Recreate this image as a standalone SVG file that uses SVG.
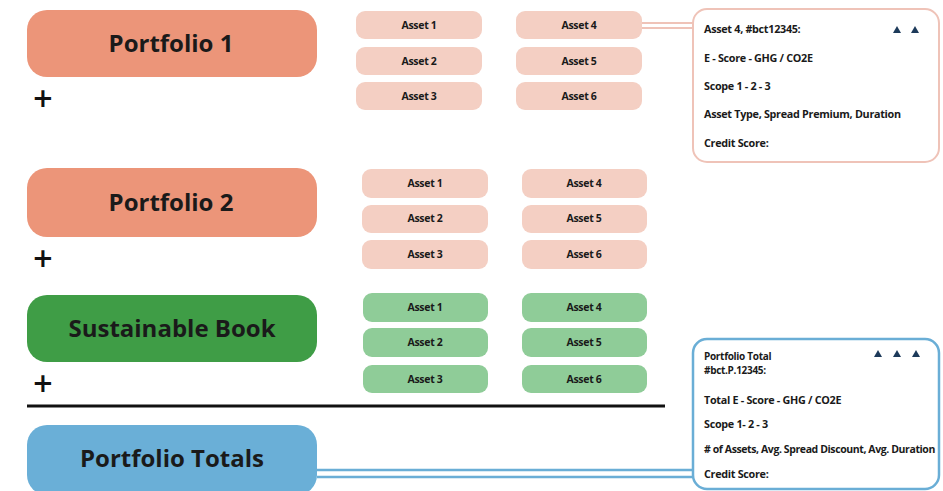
<svg xmlns="http://www.w3.org/2000/svg" width="943" height="491" viewBox="0 0 943 491">
<style>
.pf{fill:#EC9579}
.pa{fill:#F4CFC3}
.gb{fill:#3F9D46}
.ga{fill:#8FCC98}
.bl{fill:#6AAFD7}
.big{font-family:"Open Sans","Noto Sans",sans-serif;font-weight:bold;font-size:24px;fill:#1a1a1a;text-anchor:middle}
.sm{font-family:"Open Sans","Noto Sans",sans-serif;font-weight:bold;font-size:10.5px;fill:#1a1a1a;text-anchor:middle;letter-spacing:-0.3px}
.dt{font-family:"Open Sans","Noto Sans",sans-serif;font-weight:bold;font-size:10.8px;fill:#1a1a1a;letter-spacing:-0.3px}
.plus{font-family:"DejaVu Sans",sans-serif;font-weight:bold;font-size:26px;fill:#111}
.tri{fill:#1d3a5a}
</style>
<rect width="943" height="491" fill="#ffffff"/>

<g id="connectors">
  <line x1="642" y1="23" x2="693" y2="23" stroke="#EFC3B8" stroke-width="2"/>
  <line x1="642" y1="28" x2="693" y2="28" stroke="#EFC3B8" stroke-width="2"/>
  <line x1="317" y1="470" x2="693" y2="470" stroke="#6AAED6" stroke-width="2.5"/>
  <line x1="317" y1="477" x2="693" y2="477" stroke="#6AAED6" stroke-width="2.5"/>
</g>

<g id="portfolio1">
  <rect class="pf" x="27" y="10" width="290" height="67" rx="20"/>
  <text class="big" x="171" y="52">Portfolio 1</text>
</g>
<text class="plus" x="32" y="107">+</text>

<g id="p1-assets">
  <g id="p1-a1"><rect class="pa" x="356" y="11" width="126" height="28" rx="9"/><text class="sm" x="419" y="29">Asset 1</text></g>
  <g id="p1-a2"><rect class="pa" x="356" y="47" width="126" height="28" rx="9"/><text class="sm" x="419" y="65">Asset 2</text></g>
  <g id="p1-a3"><rect class="pa" x="356" y="82" width="126" height="28" rx="9"/><text class="sm" x="419" y="100">Asset 3</text></g>
  <g id="p1-a4"><rect class="pa" x="516" y="11" width="126" height="28" rx="9"/><text class="sm" x="579" y="29">Asset 4</text></g>
  <g id="p1-a5"><rect class="pa" x="516" y="47" width="126" height="28" rx="9"/><text class="sm" x="579" y="65">Asset 5</text></g>
  <g id="p1-a6"><rect class="pa" x="516" y="82" width="126" height="28" rx="9"/><text class="sm" x="579" y="100">Asset 6</text></g>
</g>

<g id="portfolio2">
  <rect class="pf" x="27" y="168" width="290" height="69" rx="20"/>
  <text class="big" x="171" y="211">Portfolio 2</text>
</g>
<text class="plus" x="32" y="267">+</text>

<g id="p2-assets">
  <g id="p2-a1"><rect class="pa" x="362" y="169" width="126" height="29" rx="9"/><text class="sm" x="425" y="187">Asset 1</text></g>
  <g id="p2-a2"><rect class="pa" x="362" y="205" width="126" height="28" rx="9"/><text class="sm" x="425" y="222">Asset 2</text></g>
  <g id="p2-a3"><rect class="pa" x="362" y="240" width="126" height="29" rx="9"/><text class="sm" x="425" y="258">Asset 3</text></g>
  <g id="p2-a4"><rect class="pa" x="522" y="169" width="125" height="29" rx="9"/><text class="sm" x="584" y="187">Asset 4</text></g>
  <g id="p2-a5"><rect class="pa" x="522" y="205" width="125" height="28" rx="9"/><text class="sm" x="584" y="222">Asset 5</text></g>
  <g id="p2-a6"><rect class="pa" x="522" y="240" width="125" height="29" rx="9"/><text class="sm" x="584" y="258">Asset 6</text></g>
</g>

<g id="sustainable-book">
  <rect class="gb" x="27" y="295" width="290" height="67" rx="20"/>
  <text class="big" x="172" y="337">Sustainable Book</text>
</g>
<text class="plus" x="32" y="392">+</text>

<g id="sb-assets">
  <g id="sb-a1"><rect class="ga" x="363" y="293" width="125" height="29" rx="9"/><text class="sm" x="425" y="311">Asset 1</text></g>
  <g id="sb-a2"><rect class="ga" x="363" y="328" width="125" height="29" rx="9"/><text class="sm" x="425" y="346">Asset 2</text></g>
  <g id="sb-a3"><rect class="ga" x="363" y="365" width="125" height="28" rx="9"/><text class="sm" x="425" y="383">Asset 3</text></g>
  <g id="sb-a4"><rect class="ga" x="522" y="293" width="125" height="29" rx="9"/><text class="sm" x="584" y="311">Asset 4</text></g>
  <g id="sb-a5"><rect class="ga" x="522" y="328" width="125" height="29" rx="9"/><text class="sm" x="584" y="346">Asset 5</text></g>
  <g id="sb-a6"><rect class="ga" x="522" y="365" width="125" height="28" rx="9"/><text class="sm" x="584" y="383">Asset 6</text></g>
</g>

<line x1="27" y1="406" x2="665" y2="406" stroke="#111" stroke-width="3"/>

<g id="portfolio-totals">
  <rect class="bl" x="27" y="425" width="290" height="70" rx="20"/>
  <text class="big" x="172" y="467">Portfolio Totals</text>
</g>

<g id="asset4-detail">
  <rect x="693" y="9" width="246" height="153" rx="14" fill="#fff" stroke="#EFC3B8" stroke-width="2"/>
  <text class="dt" x="704" y="33">Asset 4, #bct12345:</text>
  <polygon class="tri" points="893,33 897,26 901,33"/>
  <polygon class="tri" points="911,33 915,26 919,33"/>
  <text class="dt" x="704" y="62">E - Score - GHG / CO2E</text>
  <text class="dt" x="704" y="90">Scope 1 - 2 - 3</text>
  <text class="dt" x="704" y="118">Asset Type, Spread Premium, Duration</text>
  <text class="dt" x="704" y="147">Credit Score:</text>
</g>

<g id="totals-detail">
  <rect x="693" y="339" width="246" height="150" rx="14" fill="#fff" stroke="#6AAED6" stroke-width="2.5"/>
  <text class="dt" x="704" y="360" style="font-size:10px">Portfolio Total</text>
  <text class="dt" x="704" y="374" style="font-size:10px">#bct.P.12345:</text>
  <polygon class="tri" points="874,357 878,350 882,357"/>
  <polygon class="tri" points="893,357 897,350 901,357"/>
  <polygon class="tri" points="912,357 916,350 920,357"/>
  <text class="dt" x="704" y="404">Total E - Score - GHG / CO2E</text>
  <text class="dt" x="704" y="428">Scope 1- 2 - 3</text>
  <text class="dt" x="704" y="453" style="font-size:10.5px;letter-spacing:-0.4px">#&#160;of Assets, Avg. Spread Discount, Avg. Duration</text>
  <text class="dt" x="704" y="478">Credit Score:</text>
</g>
</svg>
